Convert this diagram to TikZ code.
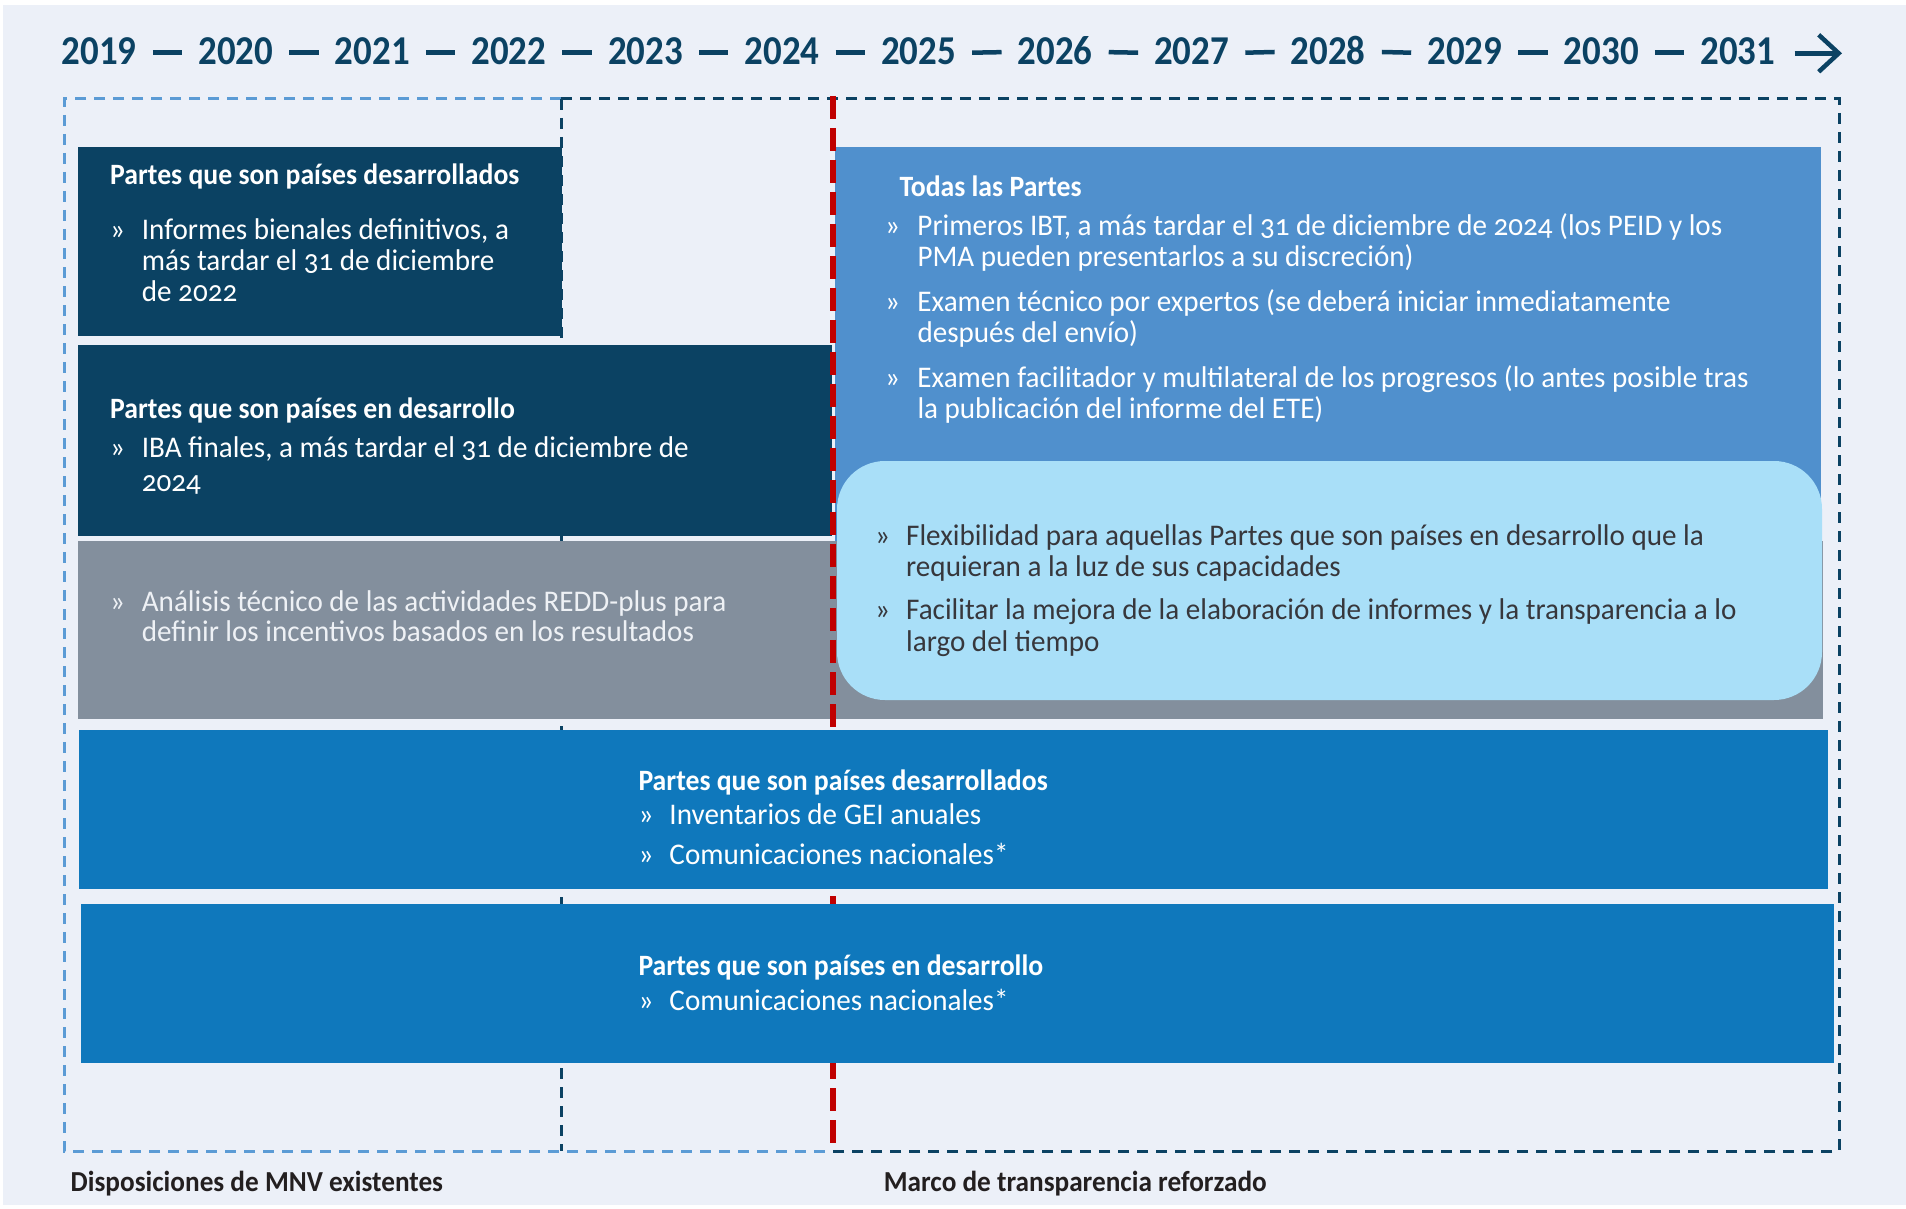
\documentclass[tikz,border=0pt]{standalone}
\usepackage{fontspec}
\setmainfont{Carlito}[FakeStretch=0.97, Numbers=OldStyle]
\newfontfamily\yearfont{Carlito}[FakeStretch=0.9]
\newfontfamily\lblfont{Carlito}[FakeStretch=0.94]
\usetikzlibrary{arrows.meta}
\definecolor{bgc}{RGB}{236,240,248}
\definecolor{navy}{RGB}{11,66,99}
\definecolor{midblue}{RGB}{80,144,205}
\definecolor{lightblue}{RGB}{169,223,248}
\definecolor{grayc}{RGB}{131,143,157}
\definecolor{boxblue}{RGB}{15,120,188}
\definecolor{framelight}{RGB}{91,155,213}
\definecolor{redline}{RGB}{192,0,0}
\definecolor{labeltext}{RGB}{35,31,32}
\definecolor{darktext}{RGB}{55,55,60}
\definecolor{graytext}{RGB}{238,241,245}
\newlength{\bhang}
% first line of a bullet, and continuation line
\newcommand{\fl}[1]{\hbox{\makebox[\bhang][l]{»}#1}}
\newcommand{\nl}[1]{\hbox{\hspace*{\bhang}#1}}
\newcommand{\blkset}[2]{\setlength{\bhang}{#1}\baselineskip=#2\lineskiplimit=-100pt\lineskip=0pt\relax}
\begin{document}
\begin{tikzpicture}[x=1pt,y=-1pt,
  panel/.style={draw=none, inner sep=0, outer sep=0, anchor=north west},
  framel/.style={draw=framelight, line width=3pt, dash pattern=on 11pt off 8pt},
  framed/.style={draw=navy, line width=3pt, dash pattern=on 11pt off 8pt},
  redd/.style={draw=redline, line width=6pt, dash pattern=on 23pt off 9pt},
  yearlbl/.style={anchor=base, inner sep=0, text=navy, font=\yearfont\bfseries\fontsize{41}{44}\selectfont},
  ydash/.style={draw=navy, line width=4.5pt},
  yarr/.style={draw=navy, line width=4.5pt, -{Straight Barb[length=20pt,width=37pt]}},
  ttl/.style={anchor=base west, inner sep=0, text=white, font=\lblfont\bfseries\fontsize{29.5}{31}\selectfont},
  blk/.style={anchor=base west, inner sep=0, text=white, font=\fontsize{30}{31}\selectfont},
  lbl/.style={anchor=base west, inner sep=0, text=labeltext, font=\lblfont\bfseries\fontsize{29}{30}\selectfont}
]
\useasboundingbox (0,0) rectangle (1906,1209);
\fill[white] (0,0) rectangle (1906,1209);
\fill[bgc] (3,5) rectangle (1906,1205);

% year header
\foreach \yr [count=\i from 0] in {2019,2020,...,2031}{
  \node[yearlbl] (y\i) at ({99.2+136.56*\i},65) {\yr};
}
\foreach \i [evaluate=\i as \j using int(\i+1)] in {0,...,11}{
  \draw[ydash] ([xshift=16pt,yshift=-1pt]y\i.east) -- ([xshift=-16pt,yshift=-1pt]y\j.west);
}
\coordinate (aend) at (1842,53.3);
\draw[yarr] ([xshift=19pt]y12.east |- aend) -- (aend);

% dashed frames
\draw[framel] (561,99) -- (64,99) -- (64,1151) -- (832,1151);
\draw[framed] (561,99) -- (561,1151);
\draw[framed] (561,99) -- (1839,99) -- (1839,1151) -- (832,1151);

% upper boxes
\node[panel, fill=grayc, minimum width=1745pt, minimum height=178pt] (gray) at (78,541) {};
\node[panel, fill=navy, minimum width=484pt, minimum height=189pt] (devd) at (78,147) {};
\node[panel, fill=navy, minimum width=754pt, minimum height=191pt] (devg) at (78,345) {};
\node[panel, fill=midblue, minimum width=986pt, minimum height=394pt] (all) at (835,147) {};
\node[panel, fill=lightblue, rounded corners=48pt, minimum width=985pt, minimum height=239pt] (flex) at (837,461) {};

% red line
\draw[redd] (832.5,96) -- (832.5,1151);

% bottom boxes
\node[panel, fill=boxblue, minimum width=1749pt, minimum height=159pt] (bdevd) at (79,730) {};
\node[panel, fill=boxblue, minimum width=1753pt, minimum height=159pt] (bdevg) at (81,904) {};

% texts
\node[ttl] (t1) at (110,185) {Partes que son países desarrollados};
\node[blk] (b1) at (110,239.3) {\vtop{\blkset{31.7pt}{31.2pt}%
\fl{Informes bienales definitivos, a}%
\nl{más tardar el 31 de diciembre}%
\nl{de 2022}}};

\node[ttl] (t2) at (110,418.3) {Partes que son países en desarrollo};
\node[blk] (b2) at (110,457.3) {\vtop{\blkset{31.7pt}{34.3pt}%
\fl{IBA finales, a más tardar el 31 de diciembre de}%
\nl{2024}}};

\node[blk, text=graytext] (b3) at (110,611.7) {\vtop{\blkset{31.7pt}{30pt}%
\fl{Análisis técnico de las actividades REDD-plus para}%
\nl{definir los incentivos basados en los resultados}}};

\node[ttl] (t4) at (899.3,196.7) {Todas las Partes};
\node[blk] (b4) at (885,236) {\vtop{\blkset{32.3pt}{30.7pt}%
\fl{Primeros IBT, a más tardar el 31 de diciembre de 2024 (los PEID y los}%
\nl{PMA pueden presentarlos a su discreción)}\vskip 14.3pt
\fl{Examen técnico por expertos (se deberá iniciar inmediatamente}%
\nl{después del envío)}\vskip 14.3pt
\fl{Examen facilitador y multilateral de los progresos (lo antes posible tras}%
\nl{la publicación del informe del ETE)}}};

\node[blk, text=darktext] (b5) at (875,545) {\vtop{\blkset{31pt}{31.6pt}%
\fl{Flexibilidad para aquellas Partes que son países en desarrollo que la}%
\nl{requieran a la luz de sus capacidades}\vskip 11.7pt
\fl{Facilitar la mejora de la elaboración de informes y la transparencia a lo}%
\nl{largo del tiempo}}};

\node[ttl] (t6) at (638.3,790) {Partes que son países desarrollados};
\node[blk] (b6) at (638.3,824) {\vtop{\blkset{31pt}{40pt}%
\fl{Inventarios de GEI anuales}%
\fl{Comunicaciones nacionales*}}};

\node[ttl] (t7) at (638.3,975) {Partes que son países en desarrollo};
\node[blk] (b7) at (638.3,1010.7) {\vtop{\blkset{31pt}{31pt}%
\fl{Comunicaciones nacionales*}}};

% frame labels
\node[lbl] (l1) at (70.5,1191.7) {Disposiciones de MNV existentes};
\node[lbl] (l2) at (883.7,1191.7) {Marco de transparencia reforzado};
\end{tikzpicture}
\end{document}
